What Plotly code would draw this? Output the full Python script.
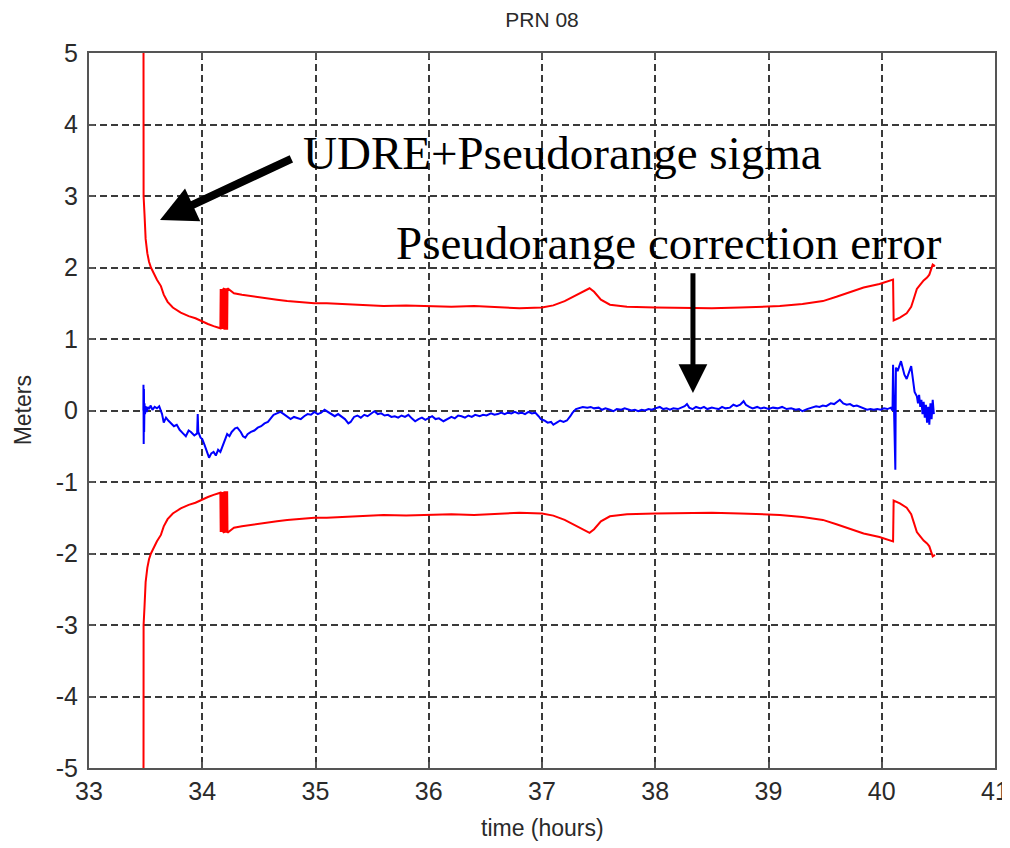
import plotly.graph_objects as go

# ---- data ----
sigma_t = [33.480, 33.482, 33.490, 33.500, 33.515, 33.530, 33.547, 33.570, 33.600, 33.635,
           33.660, 33.694, 33.740, 33.810, 33.880, 33.940, 33.988, 34.050, 34.100, 34.160,
           34.163, 34.166, 34.169, 34.172, 34.175, 34.178, 34.181, 34.184, 34.187, 34.190,
           34.193, 34.196, 34.199, 34.202, 34.205, 34.208, 34.211, 34.214, 34.217, 34.220,
           34.223, 34.280, 34.350, 34.430,
           34.500, 34.580, 34.660, 34.750, 34.850, 34.990, 35.100, 35.200, 35.340, 35.450,
           35.600, 35.800, 36.000, 36.200, 36.400, 36.600, 36.800, 37.000, 37.100, 37.200,
           37.300, 37.380, 37.420, 37.460, 37.520, 37.600, 37.750, 38.000, 38.250, 38.500,
           38.750, 39.000, 39.100, 39.300, 39.480, 39.600, 39.690, 39.840, 39.980, 40.100,
           40.105, 40.160, 40.220, 40.260, 40.280, 40.310, 40.340, 40.370, 40.400, 40.420,
           40.450, 40.470]
sigma_v = [9.00, 3.00, 2.75, 2.40, 2.20, 2.08, 2.00, 1.92, 1.83, 1.74,
           1.62, 1.52, 1.44, 1.37, 1.32, 1.29, 1.25, 1.21, 1.18, 1.15,
           1.70, 1.15, 1.70, 1.14, 1.70, 1.14, 1.70, 1.14, 1.70, 1.14,
           1.71, 1.13, 1.71, 1.13, 1.71, 1.13, 1.71, 1.14, 1.71, 1.13,
           1.71, 1.64, 1.62, 1.60,
           1.58, 1.56, 1.55, 1.53, 1.52, 1.50, 1.50, 1.49, 1.48, 1.47,
           1.46, 1.47, 1.46, 1.45, 1.46, 1.44, 1.43, 1.44, 1.47, 1.53,
           1.61, 1.68, 1.71, 1.66, 1.55, 1.48, 1.45, 1.44, 1.43, 1.43,
           1.44, 1.45, 1.46, 1.49, 1.53, 1.59, 1.64, 1.72, 1.77, 1.83,
           1.26, 1.30, 1.36, 1.45, 1.55, 1.70, 1.76, 1.82, 1.86, 1.90,
           2.04, 2.02]

err_t = [33.480, 33.481, 33.483, 33.485, 33.487, 33.490, 33.495, 33.500, 33.510, 33.520,
         33.530, 33.545, 33.560, 33.580, 33.600, 33.620, 33.635, 33.645, 33.660, 33.680,
         33.700, 33.725, 33.750, 33.775, 33.800, 33.830, 33.855, 33.880, 33.900, 33.930,
         33.955, 33.960, 33.965, 33.985, 34.000, 34.020, 34.040, 34.060, 34.080, 34.100,
         34.120, 34.140, 34.160, 34.180, 34.200, 34.220, 34.240, 34.260, 34.290, 34.310,
         34.340, 34.360, 34.380, 34.400, 34.430, 34.460, 34.490, 34.520, 34.550, 34.580,
         34.610, 34.630, 34.660, 34.690, 34.720, 34.750, 34.780, 34.810, 34.840, 34.870,
         34.900, 34.930, 34.960, 34.990, 35.020, 35.050, 35.080, 35.110, 35.140, 35.170,
         35.200, 35.230, 35.260, 35.290, 35.310, 35.340, 35.370, 35.400, 35.430, 35.460,
         35.490, 35.520, 35.550, 35.580, 35.610, 35.640, 35.670, 35.700, 35.730, 35.760,
         35.790, 35.820, 35.850, 35.880, 35.910, 35.940, 35.970, 36.000, 36.030, 36.060,
         36.090, 36.130, 36.160, 36.200, 36.230, 36.260, 36.290, 36.320, 36.350, 36.380,
         36.410, 36.450, 36.480, 36.510, 36.550, 36.580, 36.610, 36.640, 36.670, 36.700,
         36.730, 36.760, 36.790, 36.820, 36.850, 36.880, 36.910, 36.940, 36.970, 36.990,
         37.020, 37.050, 37.080, 37.100, 37.130, 37.160, 37.190, 37.220, 37.250, 37.270,
         37.300, 37.330, 37.360, 37.400, 37.430, 37.460, 37.500, 37.530, 37.560, 37.600,
         37.630, 37.660, 37.700, 37.730, 37.760, 37.790, 37.820, 37.850, 37.880, 37.910,
         37.940, 37.970, 38.000, 38.040, 38.070, 38.100, 38.130, 38.160, 38.200, 38.230,
         38.260, 38.280, 38.300, 38.330, 38.360, 38.400, 38.430, 38.460, 38.500, 38.530,
         38.560, 38.590, 38.620, 38.660, 38.690, 38.720, 38.750, 38.780, 38.800, 38.830,
         38.860, 38.900, 38.930, 38.960, 39.000, 39.040, 39.080, 39.120, 39.160, 39.200,
         39.240, 39.270, 39.300, 39.340, 39.380, 39.420, 39.450, 39.480, 39.510, 39.550,
         39.580, 39.610, 39.630, 39.660, 39.690, 39.720, 39.750, 39.780, 39.810, 39.840,
         39.870, 39.900, 39.930, 39.960, 39.990, 40.020, 40.050, 40.080, 40.095,
         40.100, 40.110, 40.120, 40.125, 40.140, 40.170, 40.200, 40.220, 40.260, 40.290,
         40.310, 40.320, 40.330, 40.340, 40.350, 40.360, 40.370, 40.380, 40.390, 40.400,
         40.410, 40.420, 40.430, 40.440, 40.450, 40.460]
err_v = [0.00, 0.36, -0.47, 0.30, -0.30, 0.10, -0.05, 0.06, -0.02, 0.05,
         0.02, 0.07, 0.01, 0.05, 0.03, 0.06, 0.00, -0.05, -0.17, -0.10,
         -0.14, -0.18, -0.22, -0.20, -0.27, -0.32, -0.36, -0.28, -0.30, -0.35,
         -0.32, -0.05, -0.30, -0.38, -0.40, -0.48, -0.56, -0.66, -0.60, -0.58,
         -0.63, -0.55, -0.58, -0.50, -0.42, -0.33, -0.36, -0.30, -0.25, -0.24,
         -0.30, -0.36, -0.38, -0.33, -0.30, -0.28, -0.24, -0.22, -0.18, -0.16,
         -0.10, -0.06, -0.04, -0.02, -0.05, -0.08, -0.12, -0.09, -0.10, -0.12,
         -0.08, -0.05, -0.06, -0.02, -0.05, -0.03, 0.01, -0.02, -0.06, -0.08,
         -0.05, -0.09, -0.12, -0.18, -0.16, -0.09, -0.07, -0.10, -0.06, -0.08,
         -0.04, -0.01, -0.05, -0.04, -0.07, -0.06, -0.09, -0.08, -0.10, -0.07,
         -0.09, -0.06, -0.11, -0.15, -0.12, -0.10, -0.13, -0.10, -0.08, -0.12,
         -0.11, -0.15, -0.12, -0.09, -0.11, -0.07, -0.08, -0.10, -0.07, -0.09,
         -0.06, -0.08, -0.06, -0.07, -0.04, -0.06, -0.05, -0.03, -0.05, -0.03,
         -0.04, -0.02, -0.04, -0.03, -0.05, -0.02, -0.04, -0.03, -0.08, -0.12,
         -0.14, -0.17, -0.16, -0.20, -0.17, -0.14, -0.16, -0.14, -0.08, -0.03,
         0.02, 0.03, 0.05, 0.04, 0.05, 0.03, 0.04, 0.01, 0.03, 0.01,
         -0.01, 0.02, 0.01, 0.03, 0.02, 0.00, 0.01, -0.01, 0.01, 0.00,
         0.02, 0.01, 0.03, 0.05, 0.02, 0.03, 0.01, 0.03, 0.02, 0.04,
         0.06, 0.09, 0.04, 0.02, 0.05, 0.03, 0.05, 0.02, 0.04, 0.03,
         0.02, 0.05, 0.03, 0.04, 0.08, 0.06, 0.08, 0.13, 0.08, 0.05,
         0.03, 0.05, 0.03, 0.04, 0.02, 0.04, 0.03, 0.05, 0.02, 0.03,
         0.01, 0.02, -0.01, 0.02, 0.04, 0.06, 0.05, 0.07, 0.06, 0.10,
         0.09, 0.12, 0.15, 0.10, 0.08, 0.09, 0.06, 0.07, 0.05, 0.03,
         0.01, 0.02, 0.01, 0.02, 0.01, 0.03, 0.02, 0.04, 0.00,
         0.64, -0.20, -0.83, 0.60, 0.55, 0.69, 0.50, 0.44, 0.62, 0.26,
         0.20, 0.10, 0.22, 0.05, 0.15, -0.05, 0.12, -0.10, 0.08, -0.17,
         0.05, -0.20, 0.10, -0.12, 0.15, -0.05]

title = "PRN 08"
x_title = "time (hours)"
y_title = "Meters"
x_ticks = [33, 34, 35, 36, 37, 38, 39, 40, 41]
y_ticks = [-5, -4, -3, -2, -1, 0, 1, 2, 3, 4, 5]
y_tick_text = ["-5", "-4", "-3", "-2", "-1", "0", "1", "2", "3", "4", "5"]
label_sigma = "UDRE+Pseudorange sigma"
label_err = "Pseudorange correction error"

# ---- figure ----
fig = go.Figure()
fig.add_trace(go.Scatter(x=sigma_t, y=sigma_v, mode="lines",
                         line=dict(color="#ff0000", width=2), showlegend=False))
fig.add_trace(go.Scatter(x=sigma_t, y=[-v for v in sigma_v], mode="lines",
                         line=dict(color="#ff0000", width=2), showlegend=False))
fig.add_trace(go.Scatter(x=err_t, y=err_v, mode="lines",
                         line=dict(color="#0000ff", width=2), showlegend=False))

sans = "Liberation Sans Narrow, Liberation Sans, Arial, sans-serif"
tick_font = dict(family=sans, size=25, color="#2a2a2a")

axis_common = dict(
    showline=True, linecolor="#555", linewidth=2.2, mirror="ticks",
    ticks="inside", ticklen=6, tickcolor="#555", tickwidth=1.5,
    showgrid=True, gridcolor="#3a3a3a", gridwidth=2, griddash="7px,4px",
    zeroline=False, tickfont=tick_font, automargin=False,
)

fig.update_xaxes(range=[33, 41], tickvals=x_ticks, **axis_common)
fig.update_yaxes(range=[-5, 5], tickvals=y_ticks, ticktext=y_tick_text,
                 ticklabelstandoff=4, **axis_common)

# axis titles as annotations for exact placement
fig.add_annotation(x=0.5, y=-0.084, xref="paper", yref="paper", text=x_title, showarrow=False,
                   xanchor="center", yanchor="middle", font=dict(family=sans, size=23, color="#2a2a2a"))
fig.add_annotation(x=-0.073, y=0.5, xref="paper", yref="paper", text=y_title, showarrow=False,
                   textangle=-90, xanchor="center", yanchor="middle",
                   font=dict(family=sans, size=23, color="#2a2a2a"))

serif = dict(family="Liberation Serif, Times New Roman, serif", size=47, color="black")

fig.add_annotation(x=34.87, y=3.60, xref="x", yref="y", text=label_sigma, showarrow=False,
                   xanchor="left", yanchor="middle", font=serif)
fig.add_annotation(x=35.69, y=2.34, xref="x", yref="y", text=label_err, showarrow=False,
                   xanchor="left", yanchor="middle", font=serif)

# arrows
fig.add_annotation(x=33.627, y=2.664, ax=34.80, ay=3.53, xref="x", yref="y", axref="x", ayref="y",
                   text="", showarrow=True, arrowhead=2, arrowwidth=8, arrowsize=0.9,
                   arrowcolor="black", standoff=0)
fig.add_annotation(x=38.333, y=0.245, ax=38.333, ay=1.94, xref="x", yref="y", axref="x", ayref="y",
                   text="", showarrow=True, arrowhead=2, arrowwidth=5, arrowsize=1.15,
                   arrowcolor="black", standoff=0)

# page body has an 8px default margin, so the figure is sized to fit the 1010x848 window
fig.update_layout(
    width=1002, height=840,
    margin=dict(l=81, r=15, t=45, b=80),
    paper_bgcolor="white", plot_bgcolor="white",
    title=dict(text=title, x=0.5, xref="paper", xanchor="center", y=0.9857, yref="container",
               yanchor="middle", font=dict(family=sans, size=21, color="#2a2a2a")),
)

fig.write_html("out.html")
